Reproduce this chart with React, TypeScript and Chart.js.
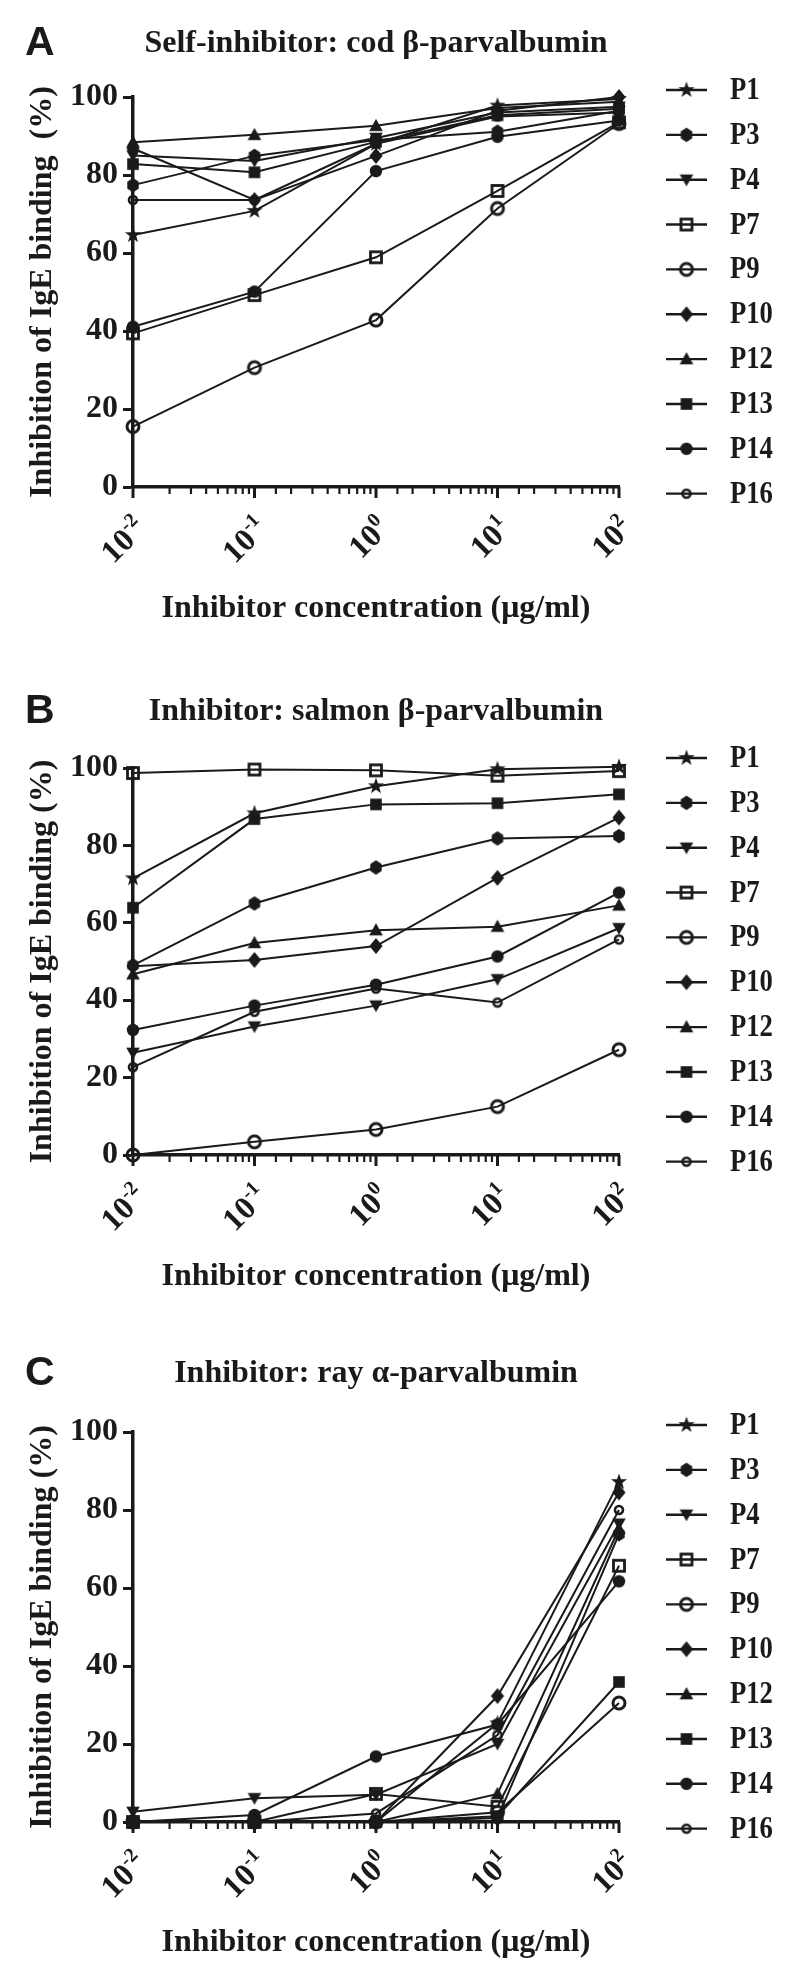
import React, { useEffect, useRef } from 'react';
import { Chart, registerables } from 'chart.js';

Chart.register(...registerables);

// ---------------- data ----------------
const concentrations = [0.01, 0.1, 1, 10, 100];
const decadeExponents = ['-2', '-1', '0', '1', '2'];
const patients = ['P1', 'P3', 'P4', 'P7', 'P9', 'P10', 'P12', 'P13', 'P14', 'P16'];
const yTickStep = 20;

// Panel A – self-inhibitor: cod β-parvalbumin (rows follow `patients`)
const codInhibition = [
  [64.6, 70.8, 88.0, 97.8, 99.5],
  [77.4, 84.9, 89.0, 91.1, 96.5],
  [85.0, 83.6, 89.5, 96.0, 97.5],
  [39.4, 49.2, 58.9, 75.9, 93.5],
  [15.5, 30.6, 42.8, 71.4, 93.2],
  [86.8, 73.6, 84.9, 96.5, 100.0],
  [88.4, 90.3, 92.6, 97.2, 98.8],
  [82.8, 80.7, 88.5, 95.3, 97.0],
  [41.1, 50.1, 81.0, 89.8, 94.0],
  [73.6, 73.6, 88.0, 95.0, 96.0],
];

// Panel B – inhibitor: salmon β-parvalbumin
const salmonInhibition = [
  [71.5, 88.3, 95.3, 99.7, 100.3],
  [49.0, 65.0, 74.3, 81.8, 82.4],
  [26.4, 33.2, 38.6, 45.4, 58.6],
  [98.7, 99.6, 99.4, 98.0, 99.2],
  [0.0, 3.4, 6.6, 12.5, 27.2],
  [48.8, 50.4, 54.0, 71.6, 87.2],
  [46.7, 54.8, 58.1, 59.0, 64.5],
  [63.9, 86.8, 90.6, 90.9, 93.2],
  [32.3, 38.6, 44.0, 51.3, 67.8],
  [22.7, 37.0, 43.0, 39.4, 55.7],
];

// Panel C – inhibitor: ray α-parvalbumin
const rayInhibition = [
  [0.0, 0.0, 0.0, 25.3, 87.2],
  [0.0, 0.0, 0.0, 1.0, 73.8],
  [2.6, 6.1, 7.0, 20.0, 76.5],
  [0.0, 0.0, 7.2, 3.9, 65.7],
  [0.0, 0.0, 0.0, 2.5, 30.5],
  [0.0, 0.0, 0.0, 32.3, 84.5],
  [0.0, 0.0, 0.0, 7.2, 75.2],
  [0.0, 0.0, 0.0, 1.5, 35.9],
  [0.0, 1.8, 16.8, 25.0, 61.7],
  [0.0, 0.0, 2.2, 22.3, 80.0],
];

// ---------------- styling ----------------
const INK = '#1a1a1a';
const SERIF = '"Liberation Serif", "Times New Roman", serif';
const SANS = '"Liberation Sans", Arial, sans-serif';
const markerKinds = ['star', 'hexagon', 'triangleDown', 'squareOpen', 'circleOpen', 'diamond', 'triangle', 'square', 'circle', 'circleOpenSmall'];

function makeMarker(kind: string): HTMLCanvasElement {
  const s = 22;
  const c = document.createElement('canvas');
  c.width = s;
  c.height = s;
  const g = c.getContext('2d')!;
  g.translate(s / 2, s / 2);
  g.fillStyle = INK;
  g.strokeStyle = INK;
  const poly = (pts: number[][]) => {
    g.beginPath();
    pts.forEach(([x, y], i) => (i ? g.lineTo(x, y) : g.moveTo(x, y)));
    g.closePath();
    g.fill();
  };
  switch (kind) {
    case 'star': {
      const pts: number[][] = [];
      for (let i = 0; i < 10; i++) {
        const r = i % 2 ? 3.4 : 8.5;
        const a = -Math.PI / 2 + (i * Math.PI) / 5;
        pts.push([r * Math.cos(a), r * Math.sin(a)]);
      }
      poly(pts);
      break;
    }
    case 'hexagon': {
      const pts: number[][] = [];
      for (let i = 0; i < 6; i++) {
        const a = -Math.PI / 2 + (i * Math.PI) / 3;
        pts.push([6.6 * Math.cos(a), 7.2 * Math.sin(a)]);
      }
      poly(pts);
      break;
    }
    case 'triangleDown':
      poly([[-6.8, -5.2], [6.8, -5.2], [0, 6.4]]);
      break;
    case 'squareOpen':
      g.lineWidth = 2.8;
      g.strokeRect(-5.5, -5.5, 11, 11);
      break;
    case 'circleOpen':
      g.lineWidth = 3;
      g.beginPath();
      g.arc(0, 0, 6, 0, Math.PI * 2);
      g.stroke();
      break;
    case 'diamond':
      poly([[0, -8], [6.6, 0], [0, 8], [-6.6, 0]]);
      break;
    case 'triangle':
      poly([[0, -7], [6.8, 5.2], [-6.8, 5.2]]);
      break;
    case 'square':
      g.fillRect(-5.8, -5.8, 11.6, 11.6);
      break;
    case 'circle':
      g.beginPath();
      g.arc(0, 0, 6.2, 0, Math.PI * 2);
      g.fill();
      break;
    case 'circleOpenSmall':
      g.lineWidth = 2.6;
      g.beginPath();
      g.arc(0, 0, 4, 0, Math.PI * 2);
      g.stroke();
      break;
  }
  return c;
}

const decorPlugin = {
  id: 'panelDecor',
  afterDraw(chart: any, _args: any, o: any) {
    const ctx: CanvasRenderingContext2D = chart.ctx;
    const { left, right, top, bottom } = chart.chartArea;
    const xs = chart.scales.x;
    ctx.save();
    ctx.strokeStyle = INK;
    ctx.fillStyle = INK;

    // minor ticks
    for (const t of xs.ticks) {
      const lg = Math.log10(t.value);
      if (Math.abs(lg - Math.round(lg)) < 1e-6) continue;
      const px = xs.getPixelForValue(t.value);
      ctx.lineWidth = 2.2;
      ctx.beginPath();
      ctx.moveTo(px, bottom);
      ctx.lineTo(px, bottom + 7);
      ctx.stroke();
    }
    // major ticks + labels
    concentrations.forEach((v, i) => {
      const px = xs.getPixelForValue(v);
      ctx.lineWidth = 3;
      ctx.beginPath();
      ctx.moveTo(px, bottom);
      ctx.lineTo(px, bottom + 11);
      ctx.stroke();

      const exp = decadeExponents[i];
      ctx.save();
      ctx.translate(px + 15, bottom + 43);
      ctx.rotate(-Math.PI / 4);
      ctx.textAlign = 'right';
      ctx.textBaseline = 'alphabetic';
      ctx.font = `bold 20px ${SERIF}`;
      const ew = ctx.measureText(exp).width;
      ctx.fillText(exp, 0, -13);
      ctx.font = `bold 32px ${SERIF}`;
      ctx.fillText('10', -ew, 0);
      ctx.restore();
    });

    // panel letter
    ctx.textAlign = 'left';
    ctx.textBaseline = 'alphabetic';
    ctx.font = `bold 41px ${SANS}`;
    ctx.fillText(o.letter, 25, o.letterY);

    // title
    ctx.textAlign = 'center';
    ctx.font = `bold 32px ${SERIF}`;
    ctx.fillText(o.title, (left + right) / 2, o.titleY);

    // x title
    ctx.fillText('Inhibitor concentration (μg/ml)', (left + right) / 2, o.xTitleY);

    // y title
    ctx.save();
    ctx.translate(43, (top + bottom) / 2);
    ctx.rotate(-Math.PI / 2);
    ctx.textBaseline = 'middle';
    ctx.fillText(o.yTitle, 0, 0);
    ctx.restore();

    // legend
    chart.data.datasets.forEach((ds: any, i: number) => {
      const y = o.legendTop + i * o.legendStep;
      ctx.lineWidth = 2.4;
      ctx.beginPath();
      ctx.moveTo(right + 47, y);
      ctx.lineTo(right + 88, y);
      ctx.stroke();
      const m = ds.pointStyle as HTMLCanvasElement;
      ctx.drawImage(m, right + 67.5 - m.width / 2, y - m.height / 2);
      ctx.save();
      ctx.translate(right + 111, y + 1);
      ctx.scale(0.86, 1);
      ctx.textAlign = 'left';
      ctx.textBaseline = 'middle';
      ctx.font = `bold 31px ${SERIF}`;
      ctx.fillText(ds.label, 0, 0);
      ctx.restore();
    });
    ctx.restore();
  },
};

type Geom = { top: number; bottom: number; titleY: number; letterY: number; xTitleY: number; legendTop: number };

function Panel(props: { height: number; letter: string; title: string; yTitle: string; values: number[][]; geom: Geom }) {
  const ref = useRef<HTMLCanvasElement>(null);
  const { height, letter, title, yTitle, values, geom } = props;
  useEffect(() => {
    const markers = markerKinds.map(makeMarker);
    const chart = new Chart(ref.current!, {
      type: 'line',
      data: {
        datasets: patients.map((p, i) => ({
          label: p,
          data: concentrations.map((c, j) => ({ x: c, y: values[i][j] })),
          borderColor: INK,
          backgroundColor: INK,
          borderWidth: 2,
          pointStyle: markers[i] as any,
          pointRadius: 7,
          clip: false as any,
          fill: false,
          tension: 0,
        })),
      },
      options: {
        responsive: false,
        animation: false,
        events: [],
        layout: { padding: { left: 0, right: 800 - 619, top: geom.top, bottom: height - geom.bottom - 20 } },
        plugins: {
          legend: { display: false },
          title: { display: false },
          tooltip: { enabled: false },
          panelDecor: { letter, title, yTitle, titleY: geom.titleY, letterY: geom.letterY, xTitleY: geom.xTitleY, legendTop: geom.legendTop, legendStep: 44.85 },
        } as any,
        scales: {
          x: {
            type: 'logarithmic',
            min: 0.01,
            max: 100,
            afterFit: (s: any) => {
              s.height = 20;
            },
            ticks: { display: false },
            grid: { display: false },
            border: { display: true, color: INK, width: 3.5 },
          },
          y: {
            min: 0,
            max: 100,
            afterFit: (s: any) => {
              s.width = 133;
            },
            ticks: { stepSize: yTickStep, color: INK, padding: 5, font: { family: SERIF, size: 32, weight: 'bold' } },
            grid: { drawOnChartArea: false, drawTicks: true, tickLength: 10, tickWidth: 3, tickColor: INK },
            border: { display: true, color: INK, width: 3.5 },
          },
        } as any,
      },
      plugins: [decorPlugin as any],
    });
    return () => chart.destroy();
  }, []);
  return <canvas ref={ref} width={800} height={height} style={{ display: 'block', width: 800, height }} />;
}

export default function App() {
  return (
    <div style={{ width: 800, background: '#fff' }}>
      <style>{'body{margin:0;background:#fff}'}</style>
      <Panel
        height={665}
        letter="A"
        title="Self-inhibitor: cod β-parvalbumin"
        yTitle="Inhibition of IgE binding  (%)"
        values={codInhibition}
        geom={{ top: 97, bottom: 487, titleY: 52, letterY: 55, xTitleY: 617, legendTop: 90 }}
      />
      <Panel
        height={665}
        letter="B"
        title="Inhibitor: salmon β-parvalbumin"
        yTitle="Inhibition of IgE binding (%)"
        values={salmonInhibition}
        geom={{ top: 103, bottom: 490, titleY: 55, letterY: 58, xTitleY: 620, legendTop: 93 }}
      />
      <Panel
        height={653}
        letter="C"
        title="Inhibitor: ray α-parvalbumin"
        yTitle="Inhibition of IgE binding (%)"
        values={rayInhibition}
        geom={{ top: 102, bottom: 492, titleY: 52, letterY: 55, xTitleY: 621, legendTop: 95 }}
      />
    </div>
  );
}
